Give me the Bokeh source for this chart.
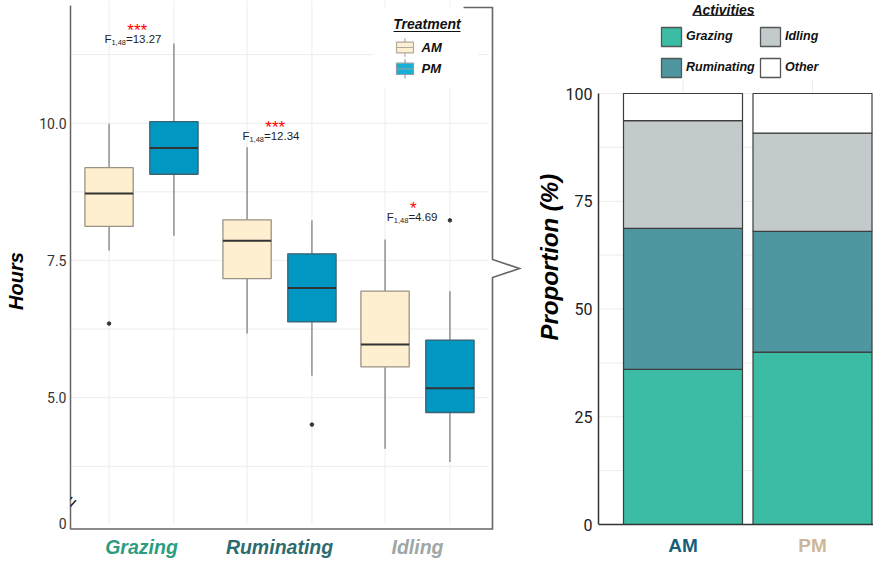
import numpy as np
from bokeh.plotting import figure
from bokeh.layouts import row
from bokeh.models import ColumnDataSource, Range1d, FixedTicker, Title, PolyAnnotation, Label
from bokeh.core.properties import value
from bokeh.embed import file_html
from bokeh.resources import INLINE

# ---------------- data ----------------
activities = ["Grazing", "Ruminating", "Idling"]
treatments = ["AM", "PM"]
am_lower = [7.68, 6.17, 4.07]
am_q1 = [8.12, 7.17, 5.56]
am_median = [8.72, 7.86, 5.97]
am_q3 = [9.19, 8.24, 6.94]
am_upper = [9.99, 9.56, 7.88]
pm_lower = [7.95, 5.40, 3.83]
pm_q1 = [9.07, 6.38, 4.73]
pm_median = [9.55, 7.00, 5.17]
pm_q3 = [10.03, 7.62, 6.05]
pm_upper = [11.45, 8.23, 6.94]
outlier_activity = ["Grazing", "Ruminating", "Idling"]
outlier_treatment = ["AM", "PM", "PM"]
outlier_hours = [6.35, 4.51, 8.23]
f_values = ["=13.27", "=12.34", "=4.69"]
signif = ["***", "***", "*"]
hours_ticks = [5.0, 7.5, 10.0]
hours_labels = ["5.0", "7.5", "10.0"]
hours_grid = [3.75, 5.0, 6.25, 7.5, 8.75, 10.0, 11.25]

periods = ["AM", "PM"]
grazing_pct = [36.0, 40.0]
ruminating_pct = [32.7, 28.0]
idling_pct = [25.0, 22.8]
other_pct = [6.3, 9.2]
pct_ticks = [0, 25, 50, 75, 100]
pct_grid = [12.5, 25, 37.5, 50, 62.5, 75, 87.5, 100]

# ---------------- styles ----------------
FONT = value("Liberation Sans")
act_colors = ["#3cbca4", "#4e96a0", "#c2cacb", "#ffffff"]
cat_label_colors = ["#2a9d7f", "#2d6b70", "#9ea6a6"]
period_label_colors = ["#175f78", "#cdb698"]
am_fill, am_edge = "#fdefd0", "#9a9385"
pm_fill, pm_edge = "#0097c2", "#3d6272"
GRID = "#ececec"

CW = {"0": .556, "1": .556, "2": .556, "3": .556, "4": .556, "5": .556, "6": .556,
      "7": .556, "8": .556, "9": .556, ".": .278, ",": .278, "=": .584, "F": .611}
def text_w(s, size):
    return sum(CW.get(c, .556) for c in s) * size

# ---------------- left panel ----------------
def lx(px): return 1 + (px - 141.0) / 138.0
def ly(py): return 10.0 - (py - 122.7) / 54.9

L = figure(width=530, height=561, x_range=Range1d(lx(70), lx(530)), y_range=Range1d(ly(561), ly(0)),
           output_backend="svg", toolbar_location=None, title_location=None, x_axis_location=None,
           min_border_left=70, min_border_right=0, min_border_top=0, min_border_bottom=0)
L.outline_line_color = None
L.grid.grid_line_color = None

zero_pos = round(ly(523), 3)
yax = L.yaxis[0]
yax.ticker = FixedTicker(ticks=[zero_pos] + hours_ticks)
ov = {zero_pos: "0"}
ov.update({t: s for t, s in zip(hours_ticks, hours_labels)})
yax.major_label_overrides = ov
yax.bounds = (ly(528.5), ly(5))
yax.axis_line_color = "#666666"
yax.axis_line_width = 1.5
yax.major_tick_line_color = None
yax.minor_tick_line_color = None
yax.major_tick_out = 0
yax.major_tick_in = 0
yax.minor_tick_out = 0
yax.minor_tick_in = 0
yax.major_label_text_font = "Roboto"
yax.major_label_text_font_size = "14px"
yax.major_label_text_color = "#333333"
yax.major_label_standoff = 4
yax.axis_label = "Hours"
yax.axis_label_text_font = "Liberation Sans"
yax.axis_label_text_font_style = "bold italic"
yax.axis_label_text_font_size = "20px"
yax.axis_label_text_color = "#000000"
yax.axis_label_standoff = 9

cat_x = np.arange(1, len(activities) + 1, dtype=float)
dodge, bw = 0.235, 0.35
box_centers = np.concatenate([cat_x - dodge, cat_x + dodge])

# grid
L.segment(x0=lx(70), x1=lx(488), y0=hours_grid, y1=hours_grid, line_color=GRID, line_width=1)
L.segment(x0=box_centers, x1=box_centers, y0=zero_pos, y1=ly(0), line_color=GRID, line_width=1)
# legend background
L.quad(left=lx(372), right=lx(477), bottom=ly(87), top=ly(8), fill_color="white", line_color=None)

for off, lo, q1, md, q3, up, fc, ec in [
        (-dodge, am_lower, am_q1, am_median, am_q3, am_upper, am_fill, am_edge),
        (dodge, pm_lower, pm_q1, pm_median, pm_q3, pm_upper, pm_fill, pm_edge)]:
    x = cat_x + off
    src = ColumnDataSource(dict(x=x, xl=x - bw / 2, xr=x + bw / 2, lower=lo, q1=q1, med=md, q3=q3, upper=up))
    L.segment(x0="x", x1="x", y0="lower", y1="q1", source=src, line_color="#777777", line_width=1.2)
    L.segment(x0="x", x1="x", y0="q3", y1="upper", source=src, line_color="#777777", line_width=1.2)
    L.quad(left="xl", right="xr", bottom="q1", top="q3", source=src, fill_color=fc, line_color=ec, line_width=1.3)
    L.segment(x0="xl", x1="xr", y0="med", y1="med", source=src, line_color="#333333", line_width=2)

ox = [activities.index(a) + 1 + (-dodge if t == "AM" else dodge) for a, t in zip(outlier_activity, outlier_treatment)]
L.scatter(x=ox, y=outlier_hours, size=3.5, color="#333333")

# significance annotations (text centres)
star_y = [ly(30), ly(126.7), ly(208)]
f_y = [ly(38.7), ly(135.3), ly(216.3)]
L.text(x=cat_x - 4.3 / 138, y=star_y, text=signif, text_align="center", text_baseline="middle",
       text_font=FONT, text_font_size="17px", text_color="#ff0000")
fx = cat_x + 20 / 138
w_rest = [text_w(s, 11.5) for s in f_values]
w_sub = text_w("1,48", 7.5)
L.text(x=fx, y=f_y, text=f_values, text_align="right", text_baseline="middle",
       text_font=FONT, text_font_size="11.5px", text_color="#222222")
L.text(x=fx, y=f_y, text=["1,48"] * 3, x_offset=[-w for w in w_rest], y_offset=3.5,
       text_align="right", text_baseline="middle", text_font=FONT, text_font_size="7.5px", text_color="#222222")
L.text(x=fx, y=f_y, text=["F"] * 3, x_offset=[-w - w_sub for w in w_rest],
       text_align="right", text_baseline="middle", text_font=FONT, text_font_size="11.5px", text_color="#222222")

# category labels
L.text(x=cat_x, y=ly(546.5), text=activities, text_align="center", text_baseline="middle",
       text_font=FONT, text_font_size="19.5px", text_font_style="bold italic", text_color=cat_label_colors)

# bottom line + bracket
L.line(x=[lx(p) for p in [70, 492, 492, 519, 492, 492, 463]],
       y=[ly(p) for p in [528.5, 528.5, 277, 268, 259, 7, 7]],
       line_color="#666666", line_width=1.6, line_join="miter")

# axis break marks
L.add_layout(PolyAnnotation(xs=[lx(70), lx(70)], ys=[ly(499.5), ly(503.5)], fill_alpha=0,
                            line_color="white", line_width=3))
L.add_layout(Label(x=lx(70), y=ly(501.5), text="=", text_align="center", text_baseline="middle",
                   angle=48, angle_units="deg", text_font="Liberation Sans", text_font_size="20px",
                   text_color="#1a1a1a"))

# legend (Treatment)
L.text(x=[lx(426.5)], y=[ly(23.2)], text=["Treatment"], text_align="center", text_baseline="middle",
       text_font=FONT, text_font_size="14px", text_font_style="bold italic", text_color="#111111")
L.segment(x0=lx(393), x1=lx(460), y0=ly(31), y1=ly(31), line_color="#111111", line_width=1)
key_top = [41.7, 62.7]
key_bot = [52.3, 74.0]
key_txt = [46.9, 68.4]
key_fill = [am_fill, "#17b0d6"]
key_edge = ["#b0aa9f", "#8aa0a8"]
for kt, kb, ktx, kf, ke, lab in zip(key_top, key_bot, key_txt, key_fill, key_edge, treatments):
    L.segment(x0=lx(404.5), x1=lx(404.5), y0=ly(kt - 4), y1=ly(kb + 4), line_color=ke, line_width=1.2)
    L.quad(left=lx(396), right=lx(413), top=ly(kt), bottom=ly(kb), fill_color=kf, line_color=ke, line_width=1.2)
    mid = (kt + kb) / 2
    L.segment(x0=lx(396), x1=lx(413), y0=ly(mid), y1=ly(mid), line_color=ke, line_width=1.2)
    L.text(x=[lx(421)], y=[ly(ktx)], text=[lab], text_align="left", text_baseline="middle",
           text_font=FONT, text_font_size="13px", text_font_style="bold italic", text_color="#111111")

# ---------------- right panel ----------------
def rx(px): return (px - 682.5) / 129.5
def ry(py): return (524.0 - py) / 4.31

R = figure(width=343, height=561, x_range=Range1d(rx(598), rx(873)), y_range=Range1d(ry(561), ry(0)),
           output_backend="svg", toolbar_location=None, title_location=None, x_axis_location=None,
           min_border_left=68, min_border_right=0, min_border_top=0, min_border_bottom=0)
R.outline_line_color = None
R.grid.grid_line_color = None
rax = R.yaxis[0]
rax.ticker = FixedTicker(ticks=pct_ticks)
rax.bounds = (0, 100)
rax.axis_line_color = "#333333"
rax.axis_line_width = 1.5
rax.major_tick_line_color = None
rax.minor_tick_line_color = None
rax.major_tick_out = 0
rax.major_tick_in = 0
rax.minor_tick_out = 0
rax.minor_tick_in = 0
rax.major_label_text_font = "Roboto"
rax.major_label_text_font_size = "16px"
rax.major_label_text_color = "#222222"
rax.major_label_standoff = 6
R.add_layout(Title(text="Proportion (%)", text_font="Liberation Sans", text_font_size="24px",
                   text_font_style="bold italic", text_color="#000000", align="left",
                   offset=221, standoff=0), "left")

bar_x = np.arange(len(periods), dtype=float)
R.segment(x0=rx(598), x1=rx(873), y0=pct_grid, y1=pct_grid, line_color=GRID, line_width=1)
R.segment(x0=bar_x, x1=bar_x, y0=0, y1=ry(79), line_color=GRID, line_width=1)

stack_names = ["Grazing", "Ruminating", "Idling", "Other"]
bsrc = ColumnDataSource(dict(x=bar_x, Grazing=grazing_pct, Ruminating=ruminating_pct,
                             Idling=idling_pct, Other=other_pct))
R.vbar_stack(stack_names, x="x", width=0.919, source=bsrc, fill_color=act_colors,
             line_color="#3d3d3d", line_width=1.2)
R.segment(x0=rx(598), x1=rx(873), y0=0, y1=0, line_color="#333333", line_width=1.6)

R.text(x=bar_x, y=ry(545), text=periods, text_align="center", text_baseline="middle",
       text_font=FONT, text_font_size="19px", text_font_style="bold", text_color=period_label_colors)

# legend (Activities)
R.text(x=[rx(723)], y=[ry(9.2)], text=["Activities"], text_align="center", text_baseline="middle",
       text_font=FONT, text_font_size="14px", text_font_style="bold italic", text_color="#111111")
R.segment(x0=rx(692), x1=rx(754), y0=ry(14.9), y1=ry(14.9), line_color="#111111", line_width=1)
key_px = [(661, 27), (661, 58), (760, 27), (760, 58)]  # Grazing, Ruminating, Idling, Other
for (kx, ky), name, col in zip(key_px, stack_names, act_colors):
    R.quad(left=rx(kx), right=rx(kx + 20), top=ry(ky), bottom=ry(ky + 19), fill_color=col,
           line_color="#555555", line_width=1.3)
    R.text(x=[rx(kx + 24.5)], y=[ry(ky + 8.5)], text=[name], text_align="left", text_baseline="middle",
           text_font=FONT, text_font_size="12.5px", text_font_style="bold italic", text_color="#111111")

layout = row(L, R)
open("out.html", "w").write(file_html(layout, INLINE))
